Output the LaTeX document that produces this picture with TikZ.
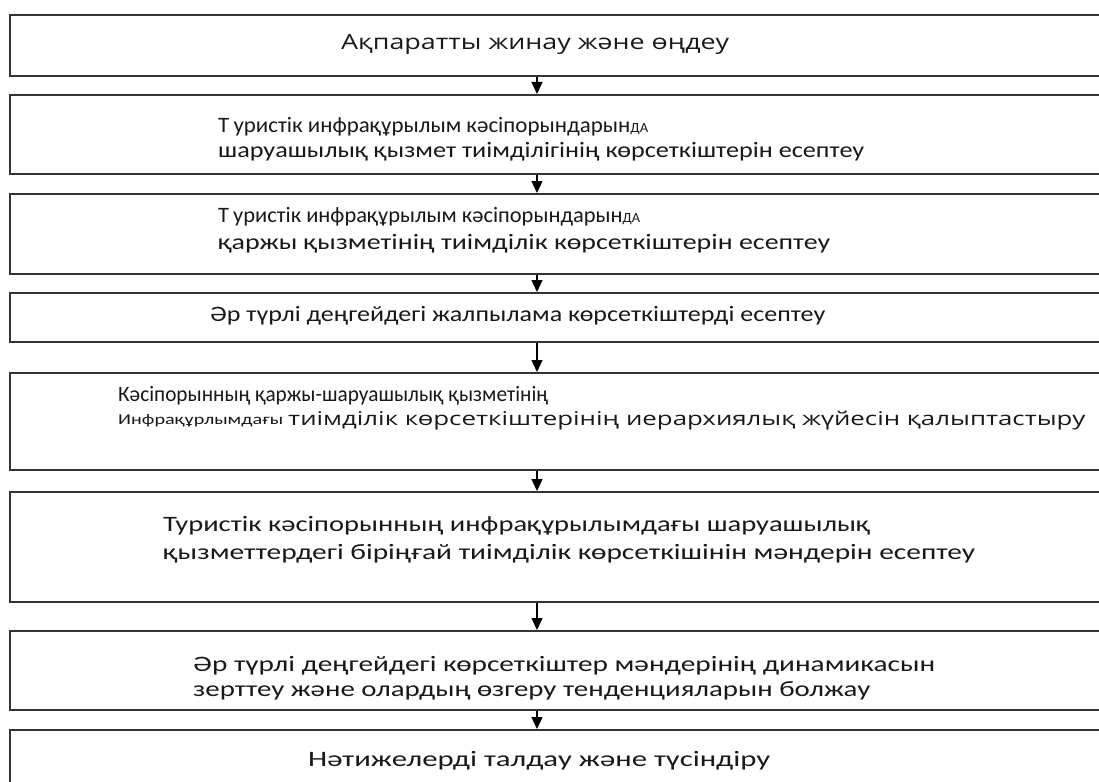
\documentclass[tikz,border=0pt]{standalone}
\usepackage{fontspec}
\setmainfont{Carlito}
\newfontfamily\wide{Open Sans}
\usetikzlibrary{arrows.meta}
\newcommand\fitw[2]{\resizebox{#1pt}{\height}{#2}}
\tikzset{
  stepbox/.style={draw=black!80, line width=1.8pt, rectangle, anchor=north west, inner sep=0pt, minimum width=1096pt},
  txt/.style={anchor=west, inner sep=0pt, font=\fontsize{22}{24}\selectfont, text=black!90},
  flow/.style={draw=black, line width=1.3pt, -{Triangle[length=12pt,width=11pt]}}
}
\begin{document}
\begin{tikzpicture}[x=1pt,y=-1pt]
\clip (0,0) rectangle (1099,781);
\fill[white] (0,0) rectangle (1099,781);
\node[stepbox, minimum height=61pt] (b1) at (9,14) {};
\node[stepbox, minimum height=79pt] (b2) at (9,94) {};
\node[stepbox, minimum height=80pt] (b3) at (9,193) {};
\node[stepbox, minimum height=49pt] (b4) at (9,292) {};
\node[stepbox, minimum height=97pt] (b5) at (9,372) {};
\node[stepbox, minimum height=110pt] (b6) at (9,491) {};
\node[stepbox, minimum height=79pt] (b7) at (9,630) {};
\node[stepbox, minimum height=80pt] (b8) at (9,729) {};

\node[txt, font=\wide\fontsize{21}{24}\selectfont] (t1) at (341,44) {\fitw{388}{Ақпаратты жинау және өңдеу}};
\node[txt] (t2a) at (218,127) {\fitw{430}{Т\hspace{4pt}уристік инфрақұрылым кәсіпорындарын{\fontsize{14}{14}\selectfont ДА}}};
\node[txt] (t2b) at (218,152) {\fitw{646}{шаруашылық қызмет тиімділігінің көрсеткіштерін есептеу}};
\node[txt] (t3a) at (218,217) {\fitw{422}{Т\hspace{4pt}уристік инфрақұрылым кәсіпорындарын{\fontsize{14}{14}\selectfont ДА}}};
\node[txt] (t3b) at (218,244) {\fitw{612}{қаржы қызметінің тиімділік көрсеткіштерін есептеу}};
\node[txt] (t4) at (210,316) {\fitw{615}{Әр түрлі деңгейдегі жалпылама көрсеткіштерді есептеу}};
\node[txt] (t5a) at (118,396) {\fitw{430}{Кәсіпорынның қаржы-шаруашылық қызметінің}};
\node[txt, font=\fontsize{15}{15}\selectfont] (t5b) at (118,421) {\fitw{165}{Инфрақұрлымдағы}};
\node[txt, font=\wide\fontsize{19}{24}\selectfont] (t5c) at (288,421) {\fitw{797}{тиімділік көрсеткіштерінің иерархиялық жүйесін қалыптастыру}};
\node[txt] (t6a) at (163,526) {\fitw{707}{Туристік кәсіпорынның инфрақұрылымдағы шаруашылық}};
\node[txt] (t6b) at (163,554) {\fitw{812}{қызметтердегі біріңғай тиімділік көрсеткішінін мәндерін есептеу}};
\node[txt] (t7a) at (193,666) {\fitw{742}{Әр түрлі деңгейдегі көрсеткіштер мәндерінің динамикасын}};
\node[txt] (t7b) at (193,691) {\fitw{677}{зерттеу және олардың өзгеру тенденцияларын болжау}};
\node[txt] (t8) at (308,761) {\fitw{462}{Нәтижелерді талдау және түсіндіру}};

\foreach \a/\b in {b1/b2,b2/b3,b3/b4,b4/b5,b5/b6,b6/b7,b7/b8}{
  \draw[flow] (\a.south -| 537,0) -- (\b.north -| 537,0);
}
\end{tikzpicture}
\end{document}
